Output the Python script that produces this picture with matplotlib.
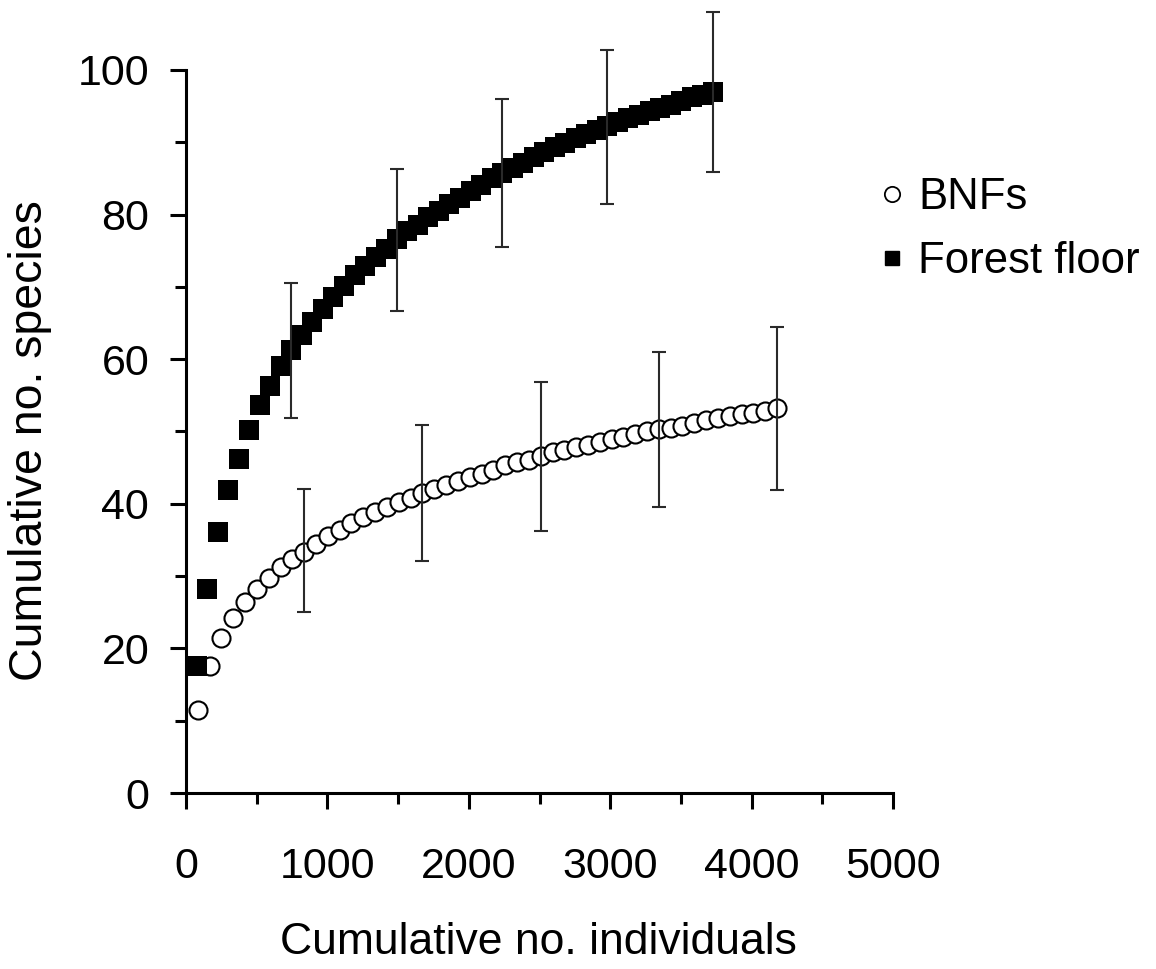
import matplotlib
matplotlib.use("Agg")
import matplotlib.pyplot as plt
from matplotlib.lines import Line2D
from matplotlib.ticker import MultipleLocator

plt.rcParams['font.family'] = ['Liberation Sans', 'DejaVu Sans']

# ---------------------------------------------
# data
# ---------------------------------------------
bnf_x = [84, 167, 251, 334, 418, 502, 585, 669, 752, 836,
         920, 1003, 1087, 1170, 1254, 1338, 1421, 1505, 1588, 1672,
         1756, 1839, 1923, 2006, 2090, 2174, 2257, 2341, 2424, 2508,
         2592, 2675, 2759, 2842, 2926, 3010, 3093, 3177, 3260, 3344,
         3428, 3511, 3595, 3678, 3762, 3846, 3929, 4013, 4096, 4180]
bnf_y = [11.5, 17.5, 21.4, 24.2, 26.4, 28.2, 29.7, 31.3, 32.4, 33.4,
         34.4, 35.5, 36.4, 37.3, 38.2, 38.9, 39.5, 40.3, 40.8, 41.5,
         42.1, 42.6, 43.2, 43.7, 44.1, 44.7, 45.3, 45.8, 46.1, 46.6,
         47.1, 47.4, 47.9, 48.2, 48.6, 48.9, 49.3, 49.7, 50.0, 50.3,
         50.5, 50.8, 51.2, 51.6, 51.8, 52.1, 52.4, 52.6, 52.9, 53.2]

ff_x = [75, 149, 224, 298, 373, 447, 522, 596, 671, 745,
        820, 894, 969, 1043, 1118, 1192, 1267, 1341, 1416, 1490,
        1565, 1639, 1714, 1788, 1863, 1937, 2012, 2086, 2161, 2235,
        2310, 2384, 2459, 2533, 2608, 2682, 2757, 2831, 2906, 2980,
        3055, 3129, 3204, 3278, 3353, 3427, 3502, 3576, 3651, 3725]
ff_y = [17.5, 28.2, 36.1, 41.9, 46.2, 50.2, 53.7, 56.3, 59.0, 61.3,
        63.4, 65.2, 66.9, 68.6, 70.1, 71.6, 72.9, 74.2, 75.3, 76.6,
        77.7, 78.6, 79.7, 80.5, 81.5, 82.3, 83.3, 84.1, 85.0, 85.7,
        86.5, 87.2, 87.9, 88.6, 89.3, 89.9, 90.6, 91.1, 91.7, 92.2,
        92.8, 93.3, 93.8, 94.3, 94.8, 95.2, 95.7, 96.2, 96.6, 97.0]

# error bars (every 10th point): lower and upper limits
bnf_err_x = [836, 1672, 2508, 3344, 4180]
bnf_err_lo = [25.0, 32.1, 36.3, 39.5, 41.9]
bnf_err_hi = [42.0, 50.9, 56.8, 61.0, 64.4]

ff_err_x = [745, 1490, 2235, 2980, 3725]
ff_err_lo = [51.8, 66.6, 75.5, 81.5, 85.9]
ff_err_hi = [70.5, 86.3, 96.0, 102.8, 108.0]

# ---------------------------------------------
# figure
# ---------------------------------------------
fig = plt.figure(figsize=(11.56, 9.69), dpi=100)
ax = fig.add_axes([0.1609, 0.1816, 0.6116, 0.7462])

ax.plot(bnf_x, bnf_y, 'o', ms=13, mfc='white', mec='black', mew=1.5,
        ls='none', zorder=3, clip_on=False)
ax.plot(ff_x, ff_y, 's', ms=14.8, mfc='black', mec='black', mew=0,
        ls='none', zorder=4, clip_on=False)

def draw_errs(xs, lo, hi):
    mid = [(a + b) / 2 for a, b in zip(lo, hi)]
    yerr = [[m - a for m, a in zip(mid, lo)], [b - m for m, b in zip(mid, hi)]]
    eb = ax.errorbar(xs, mid, yerr=yerr, fmt='none', ecolor='#2a2a2a',
                     elinewidth=1.5, capsize=4.8, capthick=1.5, zorder=5)
    for art in eb.lines[1] + eb.lines[2]:
        art.set_clip_on(False)

draw_errs(bnf_err_x, bnf_err_lo, bnf_err_hi)
draw_errs(ff_err_x, ff_err_lo, ff_err_hi)

ax.set_xlim(0, 5000)
ax.set_ylim(0, 100)
ax.xaxis.set_major_locator(MultipleLocator(1000))
ax.xaxis.set_minor_locator(MultipleLocator(500))
ax.yaxis.set_major_locator(MultipleLocator(20))
ax.yaxis.set_minor_locator(MultipleLocator(10))

for s in ['top', 'right']:
    ax.spines[s].set_visible(False)
for s in ['left', 'bottom']:
    ax.spines[s].set_linewidth(2.2)

ax.tick_params(which='major', direction='out', length=11.5, width=2.2, labelsize=31)
ax.tick_params(which='minor', direction='out', length=8, width=2.2)
ax.tick_params(axis='x', which='major', pad=27)
ax.tick_params(axis='y', which='major', pad=15)

ax.set_xlabel('Cumulative no. individuals', fontsize=32)
ax.xaxis.set_label_coords(0.499, -0.178)
ax.set_ylabel('Cumulative no. species', fontsize=33.5)
ax.yaxis.set_label_coords(-0.19, 0.488)

handles = [
    Line2D([], [], marker='o', ls='none', ms=11, mfc='white', mec='black', mew=1.3),
    Line2D([], [], marker='s', ls='none', ms=10.5, mfc='black', mec='black'),
]
fig.legend(handles, ['BNFs', 'Forest floor'], loc='center left',
           bbox_to_anchor=(0.76, 0.763), frameon=False, fontsize=31.5,
           handlelength=0.6, handletextpad=0.3, labelspacing=0.53,
           borderaxespad=0, borderpad=0)

fig.savefig('out.png', dpi=100)
